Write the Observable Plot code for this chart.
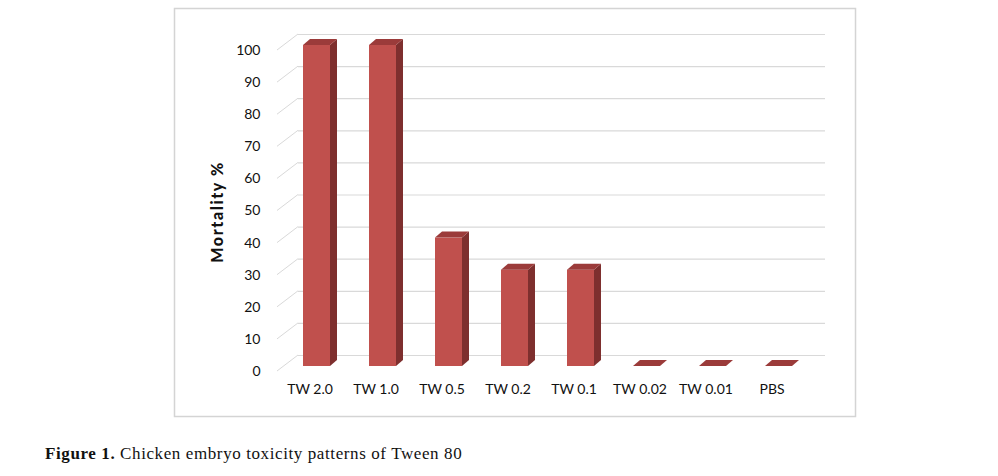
<!DOCTYPE html>
<html>
<head>
<meta charset="utf-8">
<script src="https://cdn.jsdelivr.net/npm/d3@7"></script>
<script src="https://cdn.jsdelivr.net/npm/@observablehq/plot@0.6"></script>
<style>
  html, body { margin: 0; padding: 0; background: #fff; }
  #wrap { position: relative; width: 998px; height: 476px; }
  #chart { position: absolute; left: 0; top: 0; }
  #caption { position: absolute; left: 45px; top: 444px; font-family: "Liberation Serif", "DejaVu Serif", serif; font-size: 17px; letter-spacing: 0.6px; color: #111; white-space: nowrap; }
</style>
</head>
<body>
<div id="wrap">
  <div id="chart"></div>
  <div id="caption"><b>Figure 1.</b> Chicken embryo toxicity patterns of Tween 80</div>
</div>
<script>
const categories = ["TW 2.0", "TW 1.0", "TW 0.5", "TW 0.2", "TW 0.1", "TW 0.02", "TW 0.01", "PBS"];
const mortality = [100, 100, 40, 30, 30, 0, 0, 0];
const yTicks = [0, 10, 20, 30, 40, 50, 60, 70, 80, 90, 100];
const yLabel = "Mortality %";

const data = categories.map((c, i) => ({cat: c, value: mortality[i]}));

const FRONT = "#c0504d", TOP = "#9b3b3a", SIDE = "#7e2f2e", GRID = "#d9d9d9";
const DX = 7, DY = 6;          // bar depth
const WALL_SHIFT = 11;          // back wall offset from bar front

const boxMark = () => {
  const g = d3.create("svg:g");
  g.append("rect").attr("x", 174.5).attr("y", 8.5).attr("width", 681).attr("height", 408)
    .attr("fill", "none").attr("stroke", "#d4d4d4").attr("stroke-width", 1.5);
  return g.node();
};

const diagMark = (index, scales) => {
  const g = d3.create("svg:g");
  for (const t of yTicks) {
    const y = scales.y(t);
    g.append("line").attr("x1", 277).attr("y1", y + 5).attr("x2", 298).attr("y2", y - WALL_SHIFT)
      .attr("stroke", GRID).attr("stroke-width", 1);
  }
  return g.node();
};

const depthMark = (index, scales) => {
  const g = d3.create("svg:g");
  const bw = typeof scales.x.bandwidth === "function" ? scales.x.bandwidth() : 27;
  for (const d of data) {
    const x0 = scales.x(d.cat), x1 = x0 + bw;
    const yt = scales.y(d.value), yb = scales.y(0);
    if (d.value > 0) {
      g.append("polygon")
        .attr("points", [[x1, yt], [x1 + DX, yt - DY], [x1 + DX, yb - DY], [x1, yb]].join(" "))
        .attr("fill", SIDE);
    }
    g.append("polygon")
      .attr("points", [[x0, yt], [x1, yt], [x1 + DX, yt - DY], [x0 + DX, yt - DY]].join(" "))
      .attr("fill", TOP);
  }
  return g.node();
};

const labelMark = () => {
  const g = d3.create("svg:g");
  g.append("text").attr("transform", "translate(223,212) rotate(-90)")
    .attr("text-anchor", "middle").attr("font-family", "Lato, sans-serif")
    .attr("font-weight", 900).attr("font-size", 16).attr("letter-spacing", 1.6)
    .attr("fill", "#111").text(yLabel);
  return g.node();
};

const chart = Plot.plot({
  width: 998,
  height: 425,
  marginLeft: 298,
  marginRight: 173,
  marginTop: 20,
  marginBottom: 54,
  style: {fontFamily: "Lato, sans-serif", fontSize: "14px", color: "#1a1a1a", background: "transparent"},
  x: {domain: categories, range: [284, 812], paddingInner: 0.59, paddingOuter: 0.295, axis: null},
  y: {domain: [0, 100], range: [366, 45], axis: null},
  marks: [
    boxMark,
    Plot.ruleY(yTicks, {y: d => d, dy: -WALL_SHIFT, stroke: GRID, strokeWidth: 1.2}),
    diagMark,
    Plot.axisY(yTicks, {anchor: "left", tickSize: 0, tickPadding: 38, dy: 5, fontSize: 14, fill: "#111", label: null}),
    Plot.axisX(categories, {anchor: "bottom", tickSize: 0, tickPadding: 13, dx: -7, fontSize: 14, fill: "#111", label: null}),
    Plot.barY(data, {x: "cat", y: "value", fill: FRONT}),
    depthMark,
    labelMark
  ]
});
document.getElementById("chart").appendChild(chart);
</script>
</body>
</html>
